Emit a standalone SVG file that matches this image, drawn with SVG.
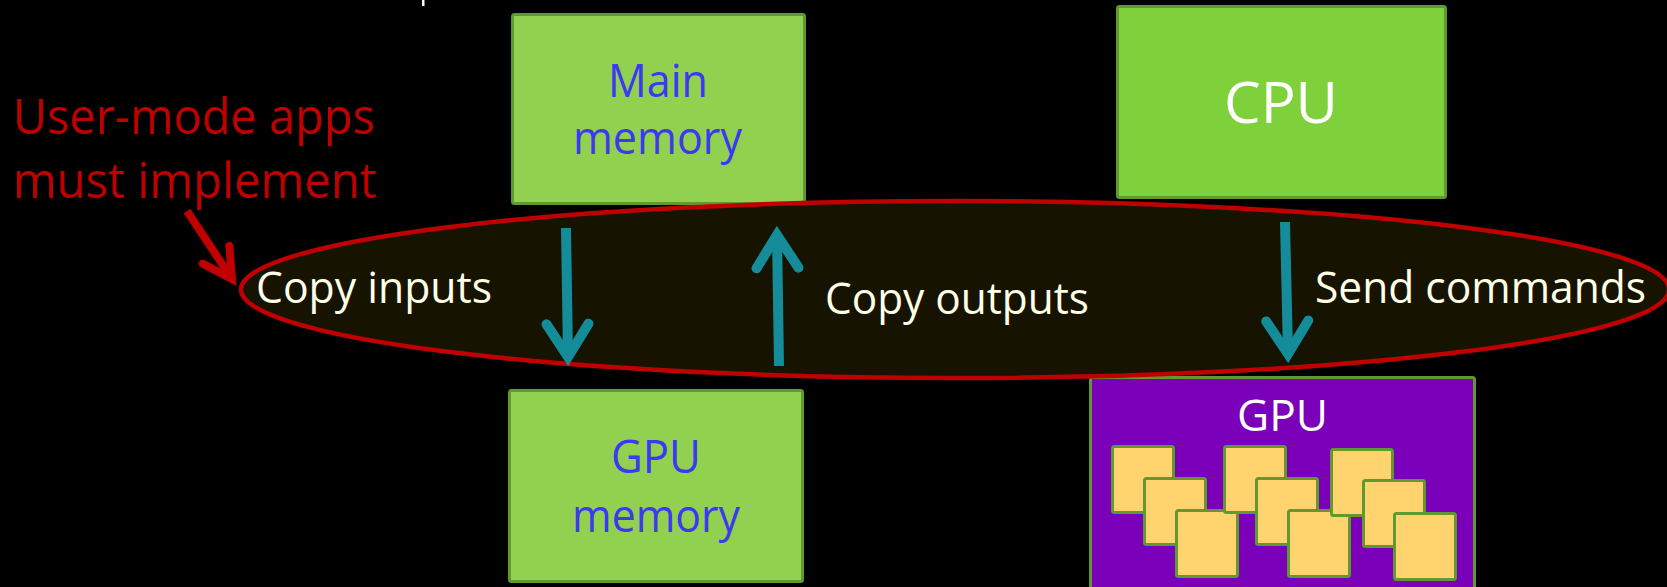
<svg xmlns="http://www.w3.org/2000/svg" width="1667" height="587" viewBox="0 0 1667 587">
  <defs>
    <style>
      .box { stroke: #62992E; stroke-width: 3; }
      .mem { fill: #92D050; }
      .cpu { fill: #7FD13B; }
      .gpu { fill: #7A00BA; }
      .core { fill: #FFD46E; stroke: #62992E; stroke-width: 3; }
      .t { font-family: "Open Sans", "Noto Sans", "Liberation Sans", sans-serif; }
      .blue { fill: #3A3AF0; font-size: 45px; }
      .white { fill: #FFFFFF; }
      .cream { fill: #FFFFE8; font-size: 44px; }
      .red { fill: #C00000; font-size: 50px; }
      .conn { fill: none; stroke: #148C99; stroke-width: 10; stroke-linecap: butt; }
    </style>
    <marker id="head" markerUnits="userSpaceOnUse" viewBox="-40 -30 50 60" markerWidth="50" markerHeight="60" refX="0" refY="0" orient="auto" overflow="visible">
      <path d="M-33,-21 L0,0 L-33,21" fill="none" stroke="#148C99" stroke-width="10" stroke-linecap="round" stroke-linejoin="miter" stroke-miterlimit="10"/>
    </marker>
    <marker id="redhead" markerUnits="userSpaceOnUse" viewBox="-40 -30 50 60" markerWidth="50" markerHeight="60" refX="0" refY="0" orient="auto" overflow="visible">
      <path d="M-29,-16 L0,0 L-29,16" fill="none" stroke="#C00000" stroke-width="8" stroke-linecap="round" stroke-linejoin="miter" stroke-miterlimit="10"/>
    </marker>
  </defs>

  <rect x="0" y="0" width="1667" height="587" fill="#000000"/>
  <rect x="422" y="0" width="2.5" height="6" fill="#FFFFFF"/>

  <g id="main-memory">
    <rect class="box mem" x="512.5" y="14.5" width="292" height="189" rx="2"/>
    <text class="t blue" x="608" y="97" textLength="100" lengthAdjust="spacingAndGlyphs">Main</text>
    <text class="t blue" x="573" y="154" textLength="169" lengthAdjust="spacingAndGlyphs">memory</text>
  </g>

  <g id="gpu-memory">
    <rect class="box mem" x="509.5" y="390.5" width="293" height="191" rx="2"/>
    <text class="t blue" x="611" y="473" textLength="90" lengthAdjust="spacingAndGlyphs">GPU</text>
    <text class="t blue" x="572" y="532" textLength="168" lengthAdjust="spacingAndGlyphs">memory</text>
  </g>

  <g id="cpu">
    <rect class="box cpu" x="1117.5" y="6.5" width="328" height="191" rx="2"/>
    <text class="t white" x="1224" y="123" font-size="57" textLength="114" lengthAdjust="spacingAndGlyphs">CPU</text>
  </g>

  <g id="gpu">
    <rect class="box gpu" x="1090.5" y="377.5" width="384" height="220" rx="2"/>
    <text class="t white" x="1237" y="431" font-size="43" textLength="91" lengthAdjust="spacingAndGlyphs">GPU</text>
    <rect class="core" x="1112.5" y="446.5" width="61" height="66" rx="2"/>
    <rect class="core" x="1144.5" y="478.5" width="61" height="66" rx="2"/>
    <rect class="core" x="1176.5" y="510.5" width="61" height="66" rx="2"/>
    <rect class="core" x="1224.5" y="446.5" width="61" height="66" rx="2"/>
    <rect class="core" x="1256.5" y="478.5" width="61" height="66" rx="2"/>
    <rect class="core" x="1288.5" y="510.5" width="61" height="66" rx="2"/>
    <rect class="core" x="1331.5" y="449.5" width="61" height="66" rx="2"/>
    <rect class="core" x="1363.5" y="480.5" width="61" height="66" rx="2"/>
    <rect class="core" x="1394.5" y="513.5" width="61" height="66" rx="2"/>
  </g>

  <g id="user-mode-region">
    <ellipse cx="955" cy="289.5" rx="714" ry="88.5" fill="#161300" stroke="#C00000" stroke-width="4.5"/>
  </g>

  <g id="connectors">
    <line class="conn" x1="566" y1="228" x2="568" y2="357" marker-end="url(#head)"/>
    <line class="conn" x1="779" y1="366" x2="777" y2="235" marker-end="url(#head)"/>
    <line class="conn" x1="1285" y1="222" x2="1288" y2="354" marker-end="url(#head)"/>
    <line x1="187" y1="211" x2="232" y2="279" stroke="#C00000" stroke-width="8" marker-end="url(#redhead)"/>
  </g>

  <g id="labels">
    <text class="t red" x="13" y="134" textLength="362" lengthAdjust="spacingAndGlyphs">User-mode apps</text>
    <text class="t red" x="13" y="198" textLength="364" lengthAdjust="spacingAndGlyphs">must implement</text>
    <text class="t cream" x="256" y="303" textLength="236" lengthAdjust="spacingAndGlyphs">Copy inputs</text>
    <text class="t cream" x="825" y="314" font-size="45" textLength="264" lengthAdjust="spacingAndGlyphs">Copy outputs</text>
    <text class="t cream" x="1315" y="303" textLength="331" lengthAdjust="spacingAndGlyphs">Send commands</text>
  </g>
</svg>
